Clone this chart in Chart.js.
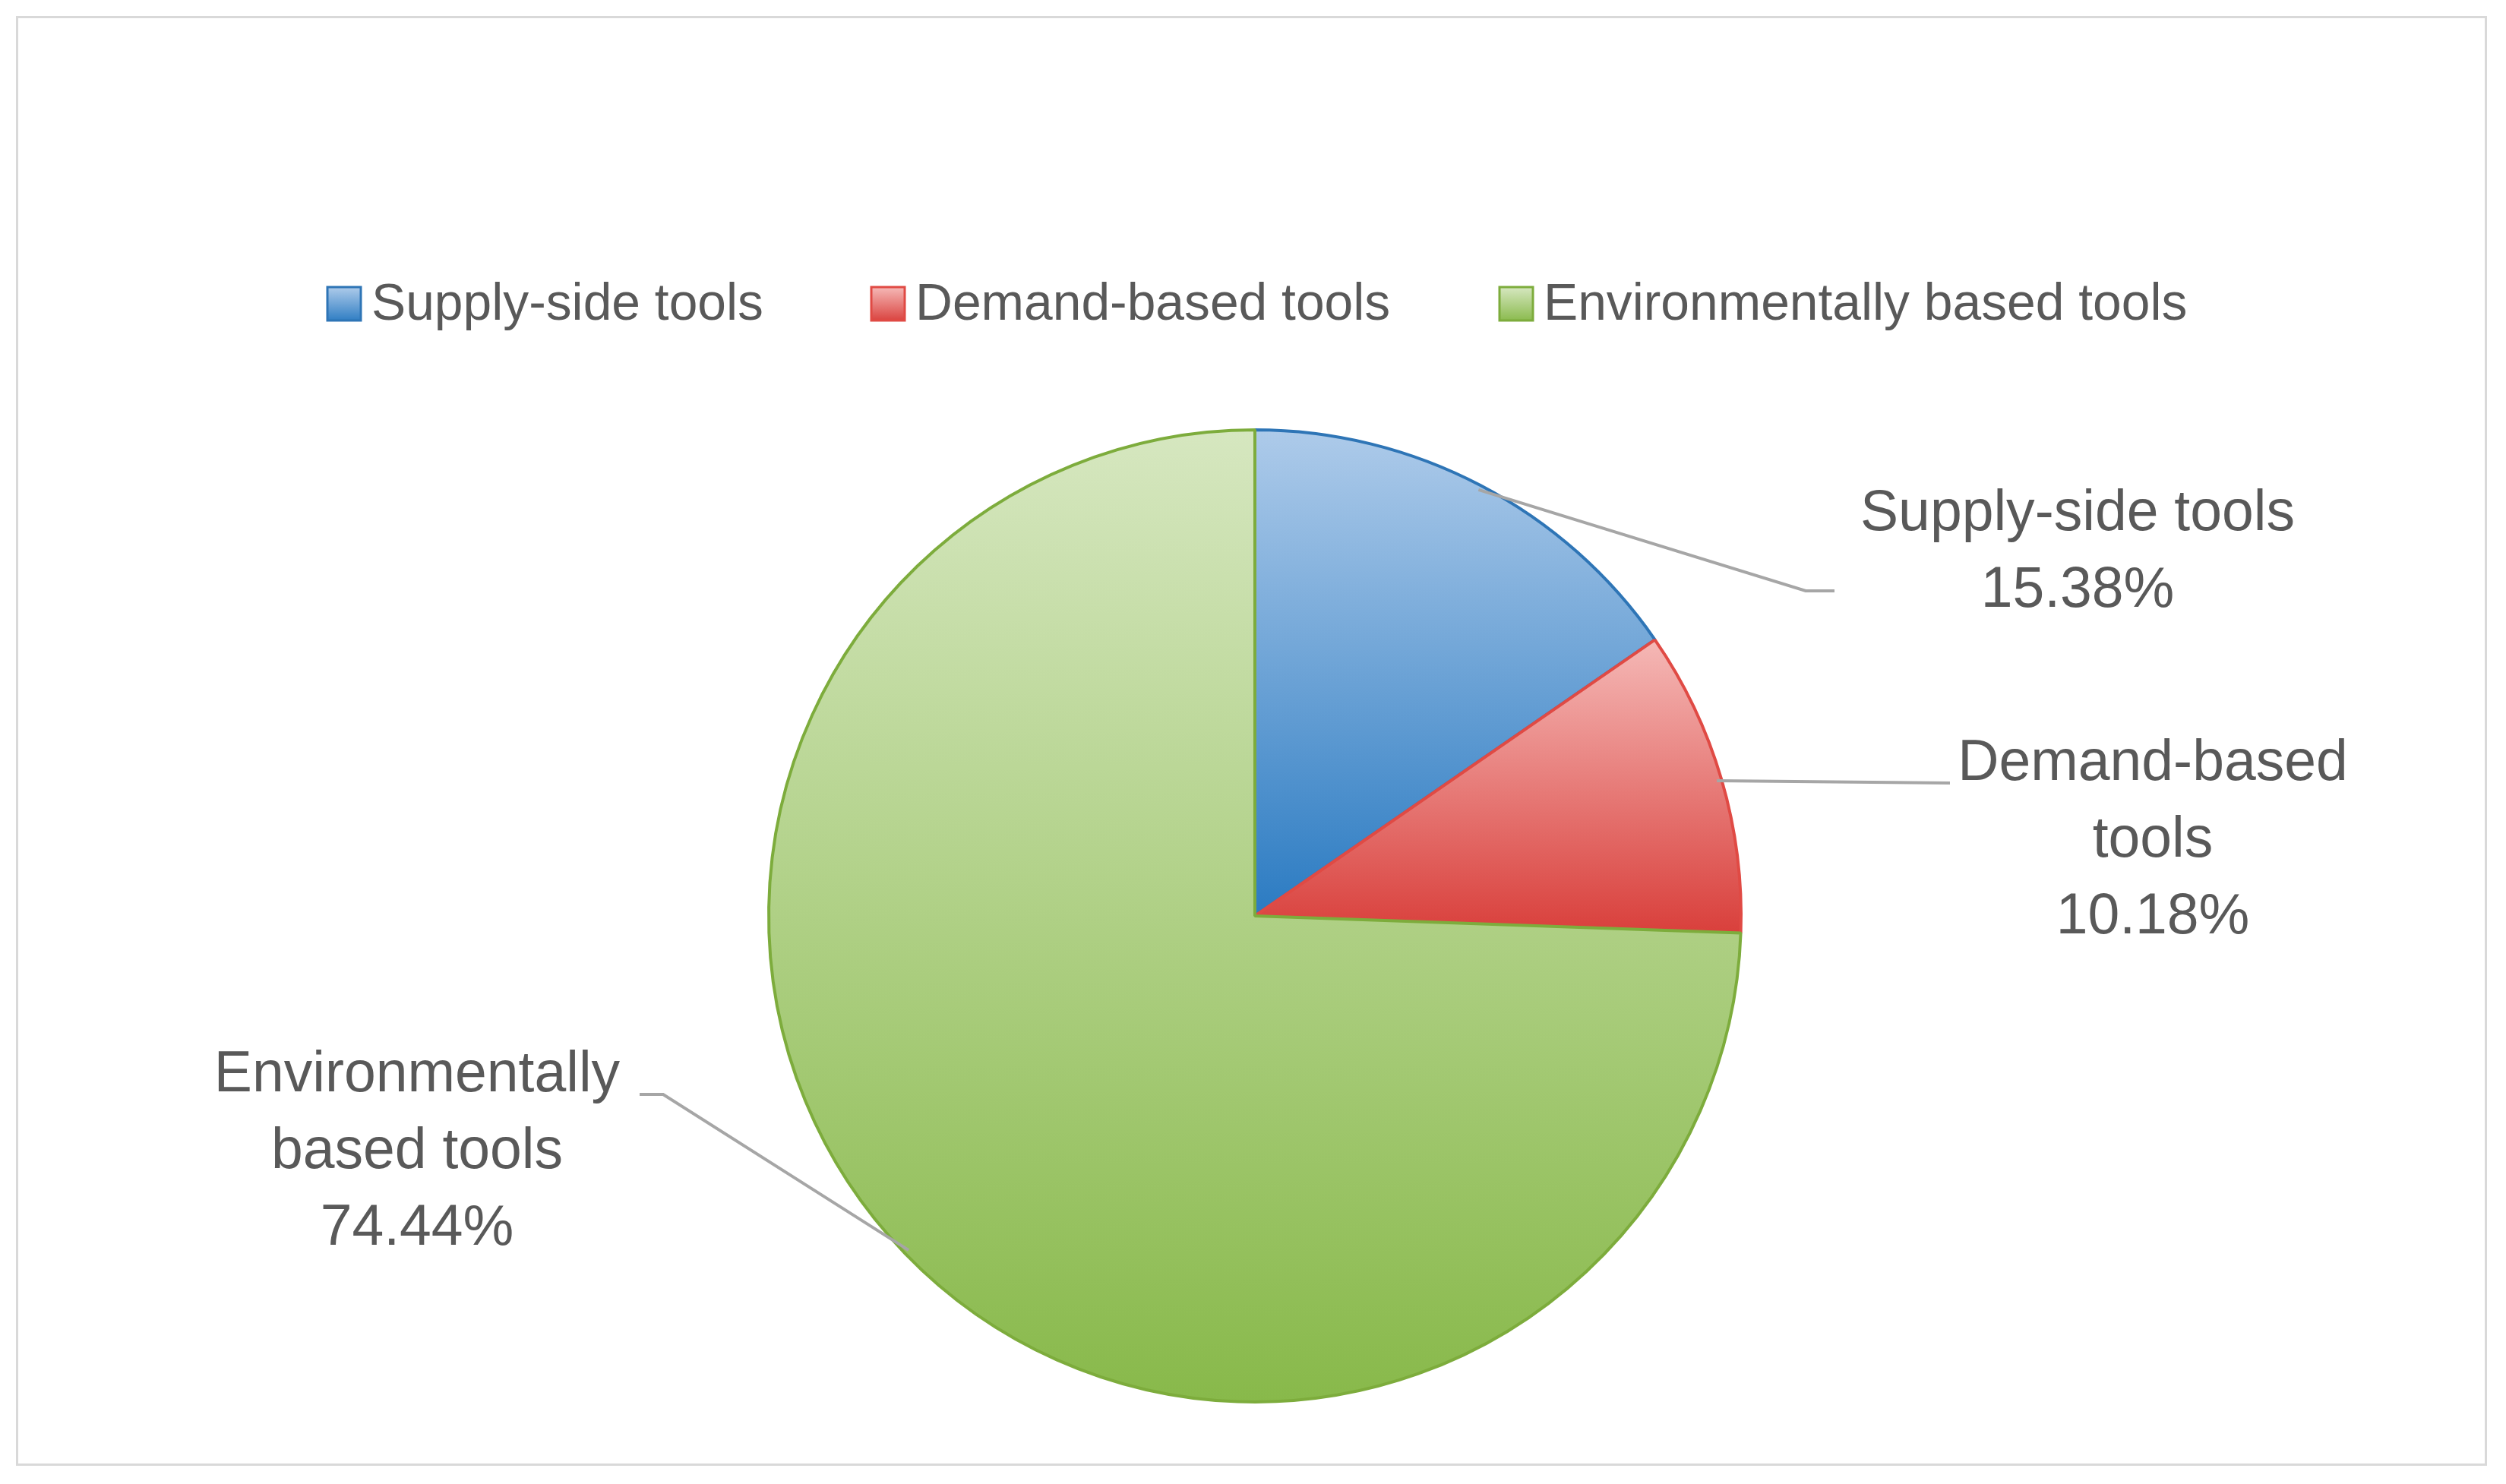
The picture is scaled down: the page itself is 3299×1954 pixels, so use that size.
<!DOCTYPE html>
<html><head><meta charset="utf-8">
<script src="https://cdn.jsdelivr.net/npm/chart.js@4/dist/chart.umd.min.js"></script>
<style>
html,body{margin:0;padding:0;background:#fff;}
#wrap{position:absolute;left:0;top:0;width:3299px;height:1954px;}
#frame{position:absolute;left:21px;top:21px;width:3253px;height:1909px;border:3px solid #d9d9d9;box-sizing:border-box;pointer-events:none;}
</style></head>
<body><div id="wrap"><canvas id="c" width="3299" height="1954"></canvas><div id="frame"></div></div>
<script>
const categories = ["Supply-side tools", "Demand-based tools", "Environmentally based tools"];
const values = [15.38, 10.18, 74.44];
const labelLines = [["Supply-side tools"], ["Demand-based", "tools"], ["Environmentally", "based tools"]];

const light = ['#aecbea', '#f5b9b7', '#d6e7c0'];
const dark = ['#2b7bc2', '#d93f3b', '#88b94a'];
const borders = ['#2e75b6', '#e04a44', '#7dac3c'];
const FONT = '"Liberation Sans", Arial, sans-serif';

function fitFont(ctx, text, width) {
  ctx.font = '100px ' + FONT;
  return 100 * width / ctx.measureText(text).width;
}

const decor = {
  id: 'decor',
  afterDraw(chart) {
    const ctx = chart.ctx;
    const meta = chart.getDatasetMeta(0);
    // legend
    ctx.save();
    const lf = fitFont(ctx, 'Supply-side tools', 516);
    ctx.font = lf + 'px ' + FONT;
    ctx.textBaseline = 'middle';
    const lx = [431, 1147, 1974];
    categories.forEach((c, i) => {
      const g = ctx.createLinearGradient(0, 378, 0, 424);
      g.addColorStop(0, light[i]); g.addColorStop(1, dark[i]);
      ctx.fillStyle = g; ctx.fillRect(lx[i], 378, 44, 44);
      ctx.strokeStyle = borders[i]; ctx.lineWidth = 3; ctx.strokeRect(lx[i], 378, 44, 44);
      ctx.fillStyle = '#595959';
      ctx.fillText(c, lx[i] + 58, 402);
    });
    // data labels
    const df = fitFont(ctx, 'Supply-side tools', 572);
    ctx.font = df + 'px ' + FONT;
    ctx.textAlign = 'center';
    const lh = 101;
    const pos = [
      {x: 2735, y: 677, ax: 2415, ay: 778, bx: 2377},
      {x: 2834, y: 1006, ax: 2567, ay: 1031, bx: 2567},
      {x: 549, y: 1416, ax: 842, ay: 1441, bx: 873}
    ];
    meta.data.forEach((arc, i) => {
      const p = arc.getProps(['x','y','startAngle','endAngle','outerRadius'], true);
      const mid = (p.startAngle + p.endAngle) / 2;
      const r = p.outerRadius * 0.99;
      const sx = p.x + Math.cos(mid) * r, sy = p.y + Math.sin(mid) * r;
      ctx.strokeStyle = '#a6a6a6'; ctx.lineWidth = 4;
      ctx.beginPath(); ctx.moveTo(sx, sy); ctx.lineTo(pos[i].bx, pos[i].ay); ctx.lineTo(pos[i].ax, pos[i].ay); ctx.stroke();
      ctx.fillStyle = '#595959';
      const lines = labelLines[i].concat([values[i].toFixed(2) + '%']);
      lines.forEach((t, k) => ctx.fillText(t, pos[i].x, pos[i].y + k * lh));
    });
    ctx.restore();
  }
};

function grad(ctx, i) {
  const ranges = [[564, 1206], [840, 1230], [564, 1848]];
  const g = ctx.chart.ctx.createLinearGradient(0, ranges[i][0], 0, ranges[i][1]);
  g.addColorStop(0, light[i]); g.addColorStop(1, dark[i]);
  return g;
}

new Chart(document.getElementById('c'), {
  type: 'pie',
  data: {
    labels: categories,
    datasets: [{
      data: values,
      backgroundColor: (c) => grad(c, c.dataIndex),
      borderColor: borders,
      borderWidth: 4
    }]
  },
  options: {
    responsive: false,
    animation: false,
    layout: { padding: { top: 564, bottom: 106, left: 5, right: 0 } },
    plugins: { legend: { display: false }, tooltip: { enabled: false } }
  },
  plugins: [decor]
});
</script></body></html>
